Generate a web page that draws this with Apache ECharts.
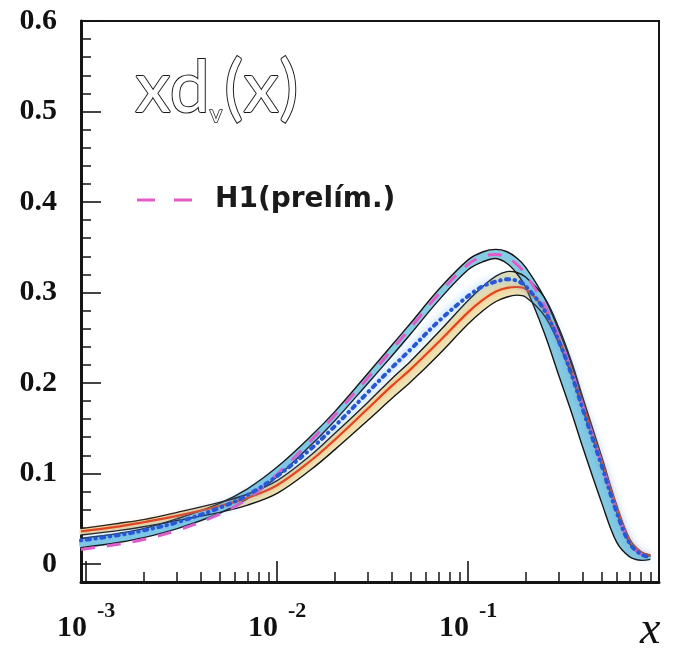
<!DOCTYPE html>
<html>
<head>
<meta charset="utf-8">
<script src="https://cdn.jsdelivr.net/npm/echarts@6/dist/echarts.min.js"></script>
<style>
  html, body { margin: 0; padding: 0; background: #fff; }
  #chart { width: 675px; height: 649px; }
</style>
</head>
<body>
<div id="chart"></div>
<script>
// Momentum fraction x (log scale) shared by every curve
const xs = [0.00094, 0.0015, 0.002, 0.003, 0.005, 0.007, 0.01, 0.015, 0.02, 0.03, 0.04, 0.05, 0.07, 0.1,
            0.12, 0.14, 0.16, 0.18, 0.2, 0.25, 0.3, 0.35, 0.4, 0.5, 0.6, 0.7, 0.8, 0.9];

// Blue uncertainty band (upper / lower edge)
const blueUpper = [0.028, 0.034, 0.039, 0.050, 0.067, 0.083, 0.107, 0.141, 0.168, 0.211, 0.242, 0.266, 0.303, 0.336,
                   0.345, 0.3476, 0.345, 0.338, 0.328, 0.295, 0.257, 0.219, 0.179, 0.114, 0.060, 0.025, 0.013, 0.009];
const blueLower = [0.018, 0.024, 0.029, 0.039, 0.056, 0.072, 0.096, 0.131, 0.158, 0.200, 0.230, 0.254, 0.291, 0.325,
                   0.334, 0.3375, 0.332, 0.321, 0.306, 0.256, 0.207, 0.166, 0.128, 0.068, 0.024, 0.008, 0.004, 0.005];

// Yellow uncertainty band (upper / lower edge) and its red central curve
const yellowUpper = [0.039, 0.045, 0.049, 0.057, 0.068, 0.077, 0.092, 0.120, 0.144, 0.179, 0.205, 0.224, 0.256, 0.291,
                     0.307, 0.318, 0.323, 0.322, 0.317, 0.295, 0.260, 0.222, 0.183, 0.119, 0.065, 0.028, 0.014, 0.010];
const yellowLower = [0.032, 0.037, 0.041, 0.048, 0.057, 0.065, 0.078, 0.104, 0.126, 0.159, 0.183, 0.201, 0.231, 0.265,
                     0.280, 0.290, 0.295, 0.297, 0.295, 0.275, 0.243, 0.207, 0.170, 0.110, 0.058, 0.023, 0.011, 0.009];
const redCentral = [0.036, 0.0415, 0.046, 0.053, 0.064, 0.073, 0.087, 0.114, 0.137, 0.172, 0.197, 0.215, 0.245, 0.278,
                    0.292, 0.301, 0.305, 0.306, 0.304, 0.282, 0.248, 0.212, 0.175, 0.114, 0.062, 0.026, 0.013, 0.009];

// H1 preliminary fit (dashed) and the blue dotted fit
const h1Prelim = [0.016, 0.022, 0.027, 0.037, 0.055, 0.072, 0.099, 0.136, 0.164, 0.206, 0.237, 0.261, 0.298, 0.331,
                  0.340, 0.342, 0.339, 0.331, 0.320, 0.287, 0.250, 0.212, 0.174, 0.111, 0.058, 0.023, 0.011, 0.008];
const blueDotted = [0.026, 0.032, 0.037, 0.046, 0.062, 0.076, 0.097, 0.127, 0.152, 0.190, 0.217, 0.237, 0.268, 0.296,
                    0.307, 0.312, 0.3145, 0.313, 0.307, 0.281, 0.245, 0.208, 0.170, 0.109, 0.057, 0.023, 0.011, 0.007];

// Axis ticks and labels
const yMajorTicks = [0, 0.1, 0.2, 0.3, 0.4, 0.5, 0.6];
const yMinorTicks = [0.02, 0.04, 0.06, 0.08, 0.12, 0.14, 0.16, 0.18, 0.22, 0.24, 0.26, 0.28,
                     0.32, 0.34, 0.36, 0.38, 0.42, 0.44, 0.46, 0.48, 0.52, 0.54, 0.56, 0.58];
const xMajorTicks = [0.001, 0.01, 0.1];
const xMinorTicks = [0.002, 0.003, 0.004, 0.005, 0.006, 0.007, 0.008, 0.009,
                     0.02, 0.03, 0.04, 0.05, 0.06, 0.07, 0.08, 0.09,
                     0.2, 0.3, 0.4, 0.5, 0.6, 0.7, 0.8, 0.9];
const xMin = 0.00094, xMax = 1;
const yMin = -0.02, yMax = 0.6;

const SMOOTH = 0.35;
const INK = '#151515';
const pairs = ys => xs.map((x, i) => [x, ys[i]]);

// Filled band between two edge curves, drawn through the cartesian scales
function bandFill(upper, lower, color, z) {
  return {
    type: 'custom', coordinateSystem: 'cartesian2d', xAxisIndex: 0, yAxisIndex: 0,
    z: z, silent: true,
    encode: { x: 0, y: 1 },
    data: [[xs[0], lower[0]]],
    renderItem: function (params, api) {
      const top = xs.map((x, i) => api.coord([x, upper[i]]));
      const bot = xs.map((x, i) => api.coord([x, lower[i]])).reverse();
      return {
        type: 'polygon',
        shape: { points: top.concat(bot), smooth: SMOOTH },
        style: { fill: color }
      };
    }
  };
}

// Thin black outlines of both bands
function bandEdges(z) {
  return {
    type: 'custom', coordinateSystem: 'cartesian2d', xAxisIndex: 0, yAxisIndex: 0,
    z: z, silent: true,
    encode: { x: 0, y: 1 },
    data: [[xs[0], blueUpper[0]]],
    renderItem: function (params, api) {
      const mk = arr => xs.map((x, i) => api.coord([x, arr[i]]));
      return {
        type: 'group',
        children: [blueUpper, blueLower, yellowUpper, yellowLower].map(a => ({
          type: 'polyline',
          shape: { points: mk(a), smooth: SMOOTH },
          style: { stroke: INK, lineWidth: 1.4, fill: 'none' }
        }))
      };
    }
  };
}

const serif = '"Liberation Serif", "DejaVu Serif", serif';

const chart = echarts.init(document.getElementById('chart'), null, { renderer: 'canvas' });

const option = {
  animation: false,
  backgroundColor: '#ffffff',
  grid: {
    left: 81, right: 16, top: 21, bottom: 67,
    outerBoundsMode: 'none', containLabel: false,
    show: true, borderColor: INK, borderWidth: 2, backgroundColor: 'transparent'
  },
  legend: {
    data: ['H1(prelím.)'],
    left: 137, top: 186, padding: 0,
    itemWidth: 55, itemHeight: 3,
    icon: 'path://M0,0H18V3H0Z M37,0H55V3H37Z',
    selectedMode: false,
    itemStyle: { color: '#e35bc9' },
    textStyle: {
      fontFamily: '"DejaVu Sans", sans-serif', fontWeight: 'bold', fontSize: 28, color: '#1a1a1a',
      padding: [0, 0, 0, 18]
    }
  },
  xAxis: [
    {
      type: 'log', logBase: 10, min: xMin, max: xMax, position: 'bottom',
      axisLine: { show: true, onZero: false, lineStyle: { color: INK, width: 3 } },
      axisTick: { show: true, inside: true, length: 21, customValues: xMajorTicks,
                  lineStyle: { color: INK, width: 1.6 } },
      axisLabel: {
        customValues: xMajorTicks, margin: 29,
        formatter: v => '{b|10}{e|' + Math.round(Math.log10(v)) + '}',
        rich: {
          b: { fontFamily: serif, fontWeight: 'bold', fontSize: 30, lineHeight: 34, color: '#111' },
          e: { fontFamily: serif, fontWeight: 'bold', fontSize: 22, lineHeight: 22, color: '#111',
               padding: [0, 0, 34, 10] }
        }
      },
      splitLine: { show: false }, minorTick: { show: false }
    },
    {
      type: 'log', logBase: 10, min: xMin, max: xMax, position: 'bottom',
      axisLine: { show: false, onZero: false },
      axisTick: { show: true, inside: true, length: 10, customValues: xMinorTicks,
                  lineStyle: { color: INK, width: 1.5 } },
      axisLabel: { show: false },
      splitLine: { show: false }
    }
  ],
  yAxis: [
    {
      type: 'value', min: yMin, max: yMax, position: 'left',
      axisLine: { show: true, onZero: false, lineStyle: { color: INK, width: 3 } },
      axisTick: { show: true, inside: true, length: 20, customValues: yMajorTicks,
                  lineStyle: { color: INK, width: 1.6 } },
      axisLabel: {
        customValues: yMajorTicks, margin: 24,
        formatter: v => (Math.abs(v) < 1e-9 ? '0' : v.toFixed(1)),
        fontFamily: serif, fontWeight: 'bold', fontSize: 30, color: '#111'
      },
      splitLine: { show: false }
    },
    {
      type: 'value', min: yMin, max: yMax, position: 'left',
      axisLine: { show: false, onZero: false },
      axisTick: { show: true, inside: true, length: 10, customValues: yMinorTicks,
                  lineStyle: { color: INK, width: 1.5 } },
      axisLabel: { show: false },
      splitLine: { show: false }
    }
  ],
  series: [
    bandFill(yellowUpper, yellowLower, '#eee3b4', 2),
    bandFill(blueUpper, blueLower, '#86cbe2', 3),
    bandEdges(4),
    {
      name: 'red central', type: 'line', data: pairs(redCentral), z: 5,
      smooth: SMOOTH, symbol: 'none', silent: true,
      lineStyle: { color: '#e6431c', width: 2.2, shadowColor: 'rgba(255,140,60,0.6)', shadowBlur: 4 }
    },
    {
      name: 'H1(prelím.)', type: 'line', data: pairs(h1Prelim), z: 6,
      smooth: SMOOTH, symbol: 'none', silent: true,
      itemStyle: { color: '#e35bc9' },
      lineStyle: { color: '#e35bc9', width: 3, type: [14, 12] }
    },
    {
      name: 'blue dotted', type: 'line', data: pairs(blueDotted), z: 7,
      smooth: SMOOTH, symbol: 'none', silent: true,
      lineStyle: { color: '#2a58d4', width: 4, type: [0.5, 5.5, 3, 5.5], cap: 'round',
                   shadowColor: 'rgba(80,170,255,0.9)', shadowBlur: 8 }
    }
  ],
  graphic: [
    {
      type: 'text', left: 134, top: 52, silent: true,
      style: {
        text: '{a|xd}{s|v}{a|(x)}',
        rich: {
          a: { fontFamily: 'Lato, "Noto Sans", sans-serif', fontSize: 72, lineHeight: 76,
               fill: '#ffffff', stroke: '#1a1a1a', lineWidth: 2 },
          s: { fontFamily: 'Lato, "Noto Sans", sans-serif', fontSize: 24, lineHeight: 24,
               fill: '#ffffff', stroke: '#1a1a1a', lineWidth: 1.5, padding: [50, 2, 0, 0] }
        }
      }
    },
    {
      type: 'text', left: 640, top: 608, silent: true,
      style: { text: 'x', fontFamily: serif, fontStyle: 'italic', fontSize: 46, fill: '#111' }
    }
  ]
};

chart.setOption(option);
</script>
</body>
</html>
